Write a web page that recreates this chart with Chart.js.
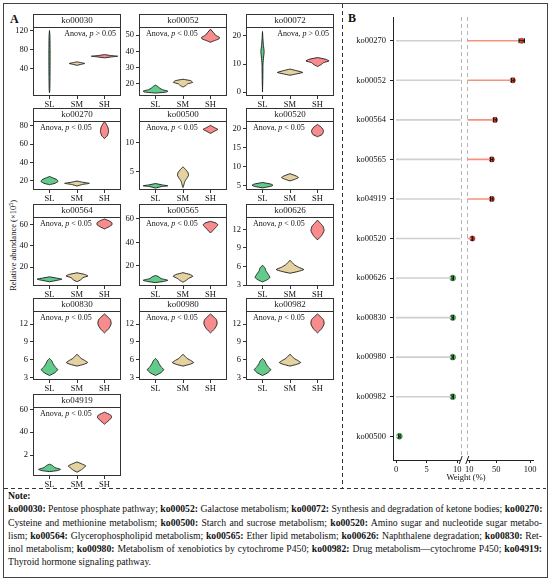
<!DOCTYPE html>
<html><head><meta charset="utf-8">
<script src="https://cdn.jsdelivr.net/npm/chart.js@4/dist/chart.umd.min.js"></script>
<style>
body{margin:0;background:#fff;}
#fig{position:relative;width:550px;height:580px;overflow:hidden;font-family:"Liberation Serif","Times New Roman",serif;color:#111;background:#fff;}
#fig canvas{position:absolute;}
.abs{position:absolute;}
#frame{left:3px;top:3px;width:543px;height:573px;border:1px solid #444;}
#vdash{left:342px;top:4px;width:1px;height:484px;background:repeating-linear-gradient(to bottom,#333 0 4px,transparent 4px 7px);}
#hdash{left:4px;top:488px;width:542px;height:1px;background:repeating-linear-gradient(to right,#333 0 4px,transparent 4px 7px);}
.lab{font-weight:bold;font-size:12px;}
#ylab{left:-47px;top:240px;width:120px;text-align:center;font-size:8.5px;transform:rotate(-90deg);white-space:nowrap;}
#note{left:8px;top:489px;width:534px;font-size:9.7px;line-height:13.3px;}
#note div{text-align:justify;text-align-last:justify;white-space:nowrap;}
#note div.l{text-align-last:left;}
</style></head><body>
<div id="fig">
<div id="frame" class="abs"></div>
<div id="vdash" class="abs"></div>
<div id="hdash" class="abs"></div>
<div class="abs lab" style="left:10px;top:12px;">A</div>
<div class="abs lab" style="left:348px;top:11px;">B</div>
<div id="ylab" class="abs">Relative abundance (×10<sup style="font-size:6px">5</sup>)</div>
<div id="note" class="abs">
<div class="l"><b>Note:</b></div>
<div><b>ko00030:</b> Pentose phosphate pathway; <b>ko00052:</b> Galactose metabolism; <b>ko00072:</b> Synthesis and degradation of ketone bodies; <b>ko00270:</b></div>
<div>Cysteine and methionine metabolism; <b>ko00500:</b> Starch and sucrose metabolism; <b>ko00520:</b> Amino sugar and nucleotide sugar metabo-</div>
<div>lism; <b>ko00564:</b> Glycerophospholipid metabolism; <b>ko00565:</b> Ether lipid metabolism; <b>ko00626:</b> Naphthalene degradation; <b>ko00830:</b> Ret-</div>
<div>inol metabolism; <b>ko00980:</b> Metabolism of xenobiotics by cytochrome P450; <b>ko00982:</b> Drug metabolism—cytochrome P450; <b>ko04919:</b></div>
<div class="l">Thyroid hormone signaling pathway.</div>
</div>
</div>
<script>
// ---------------- DATA (panel A) ----------------
const groups = ['SL', 'SM', 'SH'];
const panelNames = ['ko00030','ko00052','ko00072','ko00270','ko00500','ko00520','ko00564','ko00565','ko00626','ko00830','ko00980','ko00982','ko04919'];
const anovaSign = ['>','<','>','<','<','<','<','<','<','<','<','<','<'];
const yMinVals = [-19, 12.6, -1.4, 9.7, 1.77, 3.95, 2, 2.6, 2.84, 2.55, 2.55, 2.55, 1.7];
const yMaxVals = [128.4, 55, 23.2, 85.2, 13.76, 21.9, 67.4, 61.7, 14, 14.2, 14.2, 14.2, 62];
const yTickVals = [[40,80,120],[20,30,40,50],[0,10,20],[20,40,60,80],[5,10],[5,10,15,20],[20,40,60],[20,40,60],[3,6,9,12],[3,6,9,12],[3,6,9,12],[3,6,9,12],[20,40,60]];
const yTickText = [['40','80','120'],['20','30','40','50'],['0','10','20'],['20','40','60','80'],['5','10'],['5','10','15','20'],['20','40','60'],['20','40','60'],['3','6','9','12'],['3','6','9','12'],['3','6','9','12'],['3','6','9','12'],['2','40','60']];
// violin profiles: [abundance, relative half-width]
const violinSL = [
  [[-12,0],[-5,0.012],[20,0.018],[60,0.022],[90,0.02],[110,0.015],[121,0]],
  [[14.4,0],[15,0.4],[15.6,0.45],[16.5,0.25],[17.5,0.15],[18.6,0.07],[19.3,0]],
  [[0,0],[5,0.012],[10,0.018],[12.5,0.04],[14.5,0.06],[16.5,0.035],[19,0.015],[21.6,0]],
  [[15.5,0],[17,0.2],[19,0.31],[21,0.27],[23,0.12],[24.5,0]],
  [[2.1,0],[2.35,0.2],[2.5,0.45],[2.65,0.25],[2.9,0]],
  [[4.5,0],[4.9,0.3],[5.2,0.38],[5.5,0.3],[5.9,0]],
  [[6,0],[7.5,0.3],[8.5,0.45],[9.5,0.25],[10.7,0]],
  [[5.5,0],[6.5,0.3],[7.5,0.45],[9,0.2],[10.5,0.12],[11.6,0]],
  [[3.5,0],[3.8,0.15],[4.2,0.27],[4.8,0.2],[5.3,0.12],[5.7,0.1],[6.2,0]],
  [[3.3,0],[3.8,0.2],[4.3,0.3],[4.8,0.2],[5.3,0.13],[5.8,0.08],[6.2,0]],
  [[3.3,0],[3.8,0.2],[4.3,0.3],[4.8,0.2],[5.3,0.13],[5.8,0.08],[6.2,0]],
  [[3.3,0],[3.8,0.2],[4.3,0.3],[4.8,0.2],[5.3,0.13],[5.8,0.08],[6.2,0]],
  [[5.5,0],[6.5,0.3],[7.5,0.4],[9,0.2],[11,0.1],[12,0]]
];
const violinSM = [
  [[46.5,0],[48.5,0.14],[50.5,0.28],[52.5,0.12],[54,0]],
  [[18.1,0],[19,0.1],[20,0.16],[21,0.35],[22,0.28],[22.9,0]],
  [[6,0],[6.5,0.25],[7,0.46],[7.6,0.25],[8.2,0]],
  [[14,0],[15.8,0.2],[17,0.45],[18.2,0.2],[19.5,0]],
  [[2.2,0],[2.8,0.04],[3.3,0.07],[3.8,0.14],[4.3,0.2],[4.8,0.18],[5.3,0.1],[5.8,0]],
  [[6.3,0],[6.8,0.2],[7.2,0.31],[7.6,0.22],[8.2,0]],
  [[6,0],[8,0.14],[10,0.22],[11.5,0.4],[13,0.28],[14.5,0]],
  [[5.8,0],[7.5,0.12],[9,0.2],[11,0.36],[12.5,0.25],[14,0]],
  [[4.9,0],[5.2,0.3],[5.5,0.5],[5.9,0.3],[6.3,0.15],[7,0]],
  [[4.9,0],[5.2,0.25],[5.5,0.39],[5.8,0.3],[6.2,0.15],[6.9,0]],
  [[4.9,0],[5.2,0.25],[5.5,0.39],[5.8,0.3],[6.2,0.15],[6.9,0]],
  [[4.9,0],[5.2,0.25],[5.5,0.39],[5.8,0.3],[6.2,0.15],[6.9,0]],
  [[5,0],[7,0.15],[9,0.25],[10.5,0.32],[12,0.2],[14,0]]
];
const violinSH = [
  [[62.5,0],[64.5,0.25],[66,0.48],[67.5,0.22],[69.5,0]],
  [[45.6,0],[46.6,0.14],[47.6,0.3],[48.6,0.33],[50,0.18],[51.3,0.12],[53.7,0]],
  [[9.1,0],[9.8,0.13],[10.5,0.22],[11.1,0.42],[11.7,0.3],[12.3,0]],
  [[66,0],[69,0.1],[74,0.15],[78.5,0.12],[82,0.06],[84.5,0]],
  [[11.6,0],[12,0.15],[12.3,0.27],[12.6,0.15],[13,0]],
  [[17.8,0],[18.4,0.17],[19.3,0.22],[20.2,0.15],[21,0]],
  [[56,0],[58,0.15],[60,0.27],[62,0.27],[64,0.15],[65.5,0]],
  [[48,0],[51,0.12],[53.5,0.22],[55,0.27],[56.5,0.2],[58,0]],
  [[10.3,0],[11,0.15],[11.8,0.24],[12.5,0.2],[13,0.1],[13.5,0]],
  [[10.5,0],[11.2,0.15],[12,0.24],[12.7,0.22],[13.2,0.12],[13.7,0]],
  [[10.5,0],[11.2,0.15],[12,0.24],[12.7,0.22],[13.2,0.12],[13.7,0]],
  [[10.5,0],[11.2,0.15],[12,0.24],[12.7,0.22],[13.2,0.12],[13.7,0]],
  [[47,0],[50,0.15],[53,0.26],[55,0.22],[57.5,0]]
];
// ---------------- DATA (panel B) ----------------
const categoriesB = ['ko00270','ko00052','ko00564','ko00565','ko04919','ko00520','ko00626','ko00830','ko00980','ko00982','ko00500'];
const weightB = [87.6, 74.3, 48, 43.2, 43.2, 14.5, 9.25, 9.25, 9.25, 9.25, 0.55];
const errB = [4, 2, 2, 1.8, 1.8, 0.6, 0.12, 0.12, 0.12, 0.12, 0.12];
const xLeftTicks = [0, 5, 10];
const xRightTicks = [10, 50, 100];

// ---------------- STYLE / LAYOUT ----------------
const groupColors = ['#62CB8B', '#E5D2A1', '#F88C8C'];
const SERIF = '"Liberation Serif","Times New Roman",serif';
const colPlotLeft = [33, 139, 246];
const rowStripTop = [14, 108, 204, 298, 394];
const PW = 88, PH = 69, STRIP = 13, YW = 25, XH = 16;
const fig = document.getElementById('fig');

const panelDeco = {
  id: 'panelDeco',
  afterDraw(chart) {
    const {ctx, chartArea: a} = chart;
    const i = chart.options.panelIndex;
    ctx.save();
    ctx.strokeStyle = '#333'; ctx.lineWidth = 1;
    ctx.fillStyle = '#fff';
    ctx.fillRect(a.left, a.top - STRIP, a.right - a.left, STRIP);
    ctx.strokeRect(a.left + 0.5, a.top - STRIP + 0.5, a.right - a.left - 1, STRIP);
    ctx.strokeRect(a.left + 0.5, a.top + 0.5, a.right - a.left - 1, a.bottom - a.top - 1);
    ctx.fillStyle = '#222';
    ctx.font = '9px ' + SERIF;
    ctx.textAlign = 'center'; ctx.textBaseline = 'middle';
    ctx.fillText(panelNames[i], (a.left + a.right) / 2, a.top - STRIP / 2 + 0.5);
    const parts = [['Anova, ', ''], ['p', 'italic '], [' ' + anovaSign[i] + ' 0.05', '']];
    let w = 0;
    parts.forEach(p => { ctx.font = p[1] + '8px ' + SERIF; w += ctx.measureText(p[0]).width; });
    let x = anovaSign[i] === '>' ? a.right - 5 - w : a.left + 7;
    const y = a.top + 7;
    ctx.textAlign = 'left';
    ctx.fillStyle = '#111';
    parts.forEach(p => { ctx.font = p[1] + '8px ' + SERIF; ctx.fillText(p[0], x, y); x += ctx.measureText(p[0]).width; });
    ctx.restore();
  }
};

function violinPoints(center, prof) {
  const right = prof.map(p => ({x: center + p[1], y: p[0]}));
  const left = prof.slice().reverse().map(p => ({x: center - p[1], y: p[0]}));
  return right.concat(left);
}

panelNames.forEach((name, i) => {
  const row = Math.floor(i / 3), col = i % 3;
  const cv = document.createElement('canvas');
  const W = YW + PW + 4, H = 2 + STRIP + PH + XH;
  cv.width = W; cv.height = H;
  cv.style.left = (colPlotLeft[col] - YW) + 'px';
  cv.style.top = (rowStripTop[row] - 2) + 'px';
  cv.style.width = W + 'px'; cv.style.height = H + 'px';
  fig.appendChild(cv);
  const profs = [violinSL[i], violinSM[i], violinSH[i]];
  const datasets = profs.map((prof, g) => ({
    data: violinPoints(g + 1, prof),
    showLine: true, fill: 'shape',
    backgroundColor: groupColors[g], borderColor: '#1a1a1a', borderWidth: 0.9,
    pointRadius: 0, tension: 0.15
  }));
  const tickFont = {family: SERIF, size: 8.5};
  new Chart(cv, {
    type: 'scatter',
    data: {datasets},
    options: {
      panelIndex: i,
      responsive: false, animation: false, devicePixelRatio: 1,
      layout: {padding: {top: 2 + STRIP, right: 4, left: 0, bottom: 0}},
      plugins: {legend: {display: false}, tooltip: {enabled: false}},
      scales: {
        x: {
          type: 'linear', min: 0.4, max: 3.6,
          afterBuildTicks: s => { s.ticks = [1, 2, 3].map(v => ({value: v})); },
          afterFit: s => { s.height = XH; },
          ticks: {callback: v => groups[v - 1], font: tickFont, color: '#111', padding: 1, maxRotation: 0, autoSkip: false},
          grid: {drawOnChartArea: false, tickLength: 3, tickColor: '#333'},
          border: {display: false}
        },
        y: {
          type: 'linear', min: yMinVals[i], max: yMaxVals[i],
          afterBuildTicks: s => { s.ticks = yTickVals[i].map(v => ({value: v})); },
          afterFit: s => { s.width = YW; },
          ticks: {callback: (v, idx) => yTickText[i][idx], font: tickFont, color: '#111', padding: 2, autoSkip: false},
          grid: {drawOnChartArea: false, tickLength: 3, tickColor: '#333'},
          border: {display: false}
        }
      }
    },
    plugins: [panelDeco]
  });
});

// ---------------- PANEL B ----------------
const bDeco = {
  id: 'bDeco',
  beforeDatasetsDraw(chart) {
    const {ctx, chartArea: a, scales} = chart;
    ctx.save();
    ctx.strokeStyle = '#b5b5b5'; ctx.lineWidth = 1; ctx.setLineDash([4, 3]);
    [scales.xL.right, scales.xR.left].forEach(x => {
      ctx.beginPath(); ctx.moveTo(Math.round(x) + 0.5, a.top); ctx.lineTo(Math.round(x) + 0.5, a.bottom); ctx.stroke();
    });
    ctx.restore();
  },
  afterDatasetsDraw(chart) {
    const {ctx, scales} = chart;
    ctx.save();
    ctx.strokeStyle = '#111'; ctx.lineWidth = 1;
    weightB.forEach((w, k) => {
      const sx = w > 10 ? scales.xR : scales.xL;
      const y = scales.y.getPixelForValue(k + 1);
      const x0 = sx.getPixelForValue(w - errB[k]), x1 = sx.getPixelForValue(w + errB[k]);
      ctx.beginPath();
      ctx.moveTo(x0, y); ctx.lineTo(x1, y);
      ctx.moveTo(x0, y - 2.5); ctx.lineTo(x0, y + 2.5);
      ctx.moveTo(x1, y - 2.5); ctx.lineTo(x1, y + 2.5);
      ctx.stroke();
    });
    ctx.restore();
  },
  afterDraw(chart) {
    const {ctx, chartArea: a, scales} = chart;
    ctx.save();
    ctx.strokeStyle = '#222'; ctx.lineWidth = 1;
    [scales.xL.right, scales.xR.left].forEach(x => {
      ctx.beginPath(); ctx.moveTo(x - 1.5, a.bottom + 4); ctx.lineTo(x + 1.5, a.bottom - 4); ctx.stroke();
    });
    ctx.fillStyle = '#111'; ctx.font = '8.5px ' + SERIF;
    ctx.textAlign = 'center'; ctx.textBaseline = 'middle';
    ctx.fillText('Weight (%)', (scales.xG.left + scales.xG.right) / 2 + 2, a.bottom + 18);
    ctx.restore();
  }
};

(function () {
  const cv = document.createElement('canvas');
  const W = 200, H = 483;
  cv.width = W; cv.height = H;
  cv.style.left = '344px'; cv.style.top = '4px';
  cv.style.width = W + 'px'; cv.style.height = H + 'px';
  fig.appendChild(cv);
  const leftMax = 10.55, rightMin = 7.0;
  const gray = [], red = [], redPts = [], greenPts = [];
  weightB.forEach((w, k) => {
    const y = k + 1;
    gray.push({x: 0, y}, {x: Math.min(w, leftMax), y}, {x: null, y: null});
    if (w > 10) { red.push({x: rightMin, y}, {x: w, y}, {x: null, y: null}); redPts.push({x: w, y}); }
    else { greenPts.push({x: w, y}); }
  });
  const tickFont = {family: SERIF, size: 8.5};
  const xCommon = {
    type: 'linear', position: 'bottom', stack: 'w',
    afterFit: s => { s.height = 27; },
    ticks: {font: tickFont, color: '#111', padding: 2, autoSkip: false, maxRotation: 0},
    grid: {drawOnChartArea: false, tickLength: 3, tickColor: '#222'},
    border: {display: true, color: '#222', width: 1}
  };
  new Chart(cv, {
    type: 'scatter',
    data: {datasets: [
      {xAxisID: 'xL', data: gray, showLine: true, spanGaps: false, borderColor: '#cfcfcf', borderWidth: 1.6, pointRadius: 0},
      {xAxisID: 'xR', data: red, showLine: true, spanGaps: false, borderColor: '#F5927E', borderWidth: 1.6, pointRadius: 0},
      {xAxisID: 'xR', data: redPts, pointRadius: 2.6, backgroundColor: '#D2412F', borderColor: '#8a1f14', borderWidth: 0.6},
      {xAxisID: 'xL', data: greenPts, pointRadius: 2.9, backgroundColor: '#52B553', borderColor: '#2f7f31', borderWidth: 0.6}
    ]},
    options: {
      responsive: false, animation: false, devicePixelRatio: 1,
      layout: {padding: {top: 13, right: 11, left: 0, bottom: 0}},
      plugins: {legend: {display: false}, tooltip: {enabled: false}},
      scales: {
        y: {
          type: 'linear', reverse: true, min: 0.4, max: 11.6,
          afterBuildTicks: s => { s.ticks = categoriesB.map((c, k) => ({value: k + 1})); },
          afterFit: s => { s.width = 49; },
          ticks: {callback: (v) => categoriesB[v - 1], font: tickFont, color: '#111', padding: 4, autoSkip: false},
          grid: {drawOnChartArea: false, tickLength: 3, tickColor: '#222'},
          border: {display: true, color: '#222', width: 1}
        },
        xL: Object.assign({}, xCommon, {
          stackWeight: 67.7, min: -0.49, max: leftMax,
          afterBuildTicks: s => { s.ticks = xLeftTicks.map(v => ({value: v})); }
        }),
        xG: {
          type: 'linear', position: 'bottom', stack: 'w', stackWeight: 6.6, min: 0, max: 1,
          afterFit: s => { s.height = 27; },
          ticks: {display: false}, grid: {display: false}, border: {display: false}
        },
        xR: Object.assign({}, xCommon, {
          stackWeight: 65.7, min: rightMin, max: 104.3,
          afterBuildTicks: s => { s.ticks = xRightTicks.map(v => ({value: v})); }
        })
      }
    },
    plugins: [bDeco]
  });
})();
</script>
</body></html>
